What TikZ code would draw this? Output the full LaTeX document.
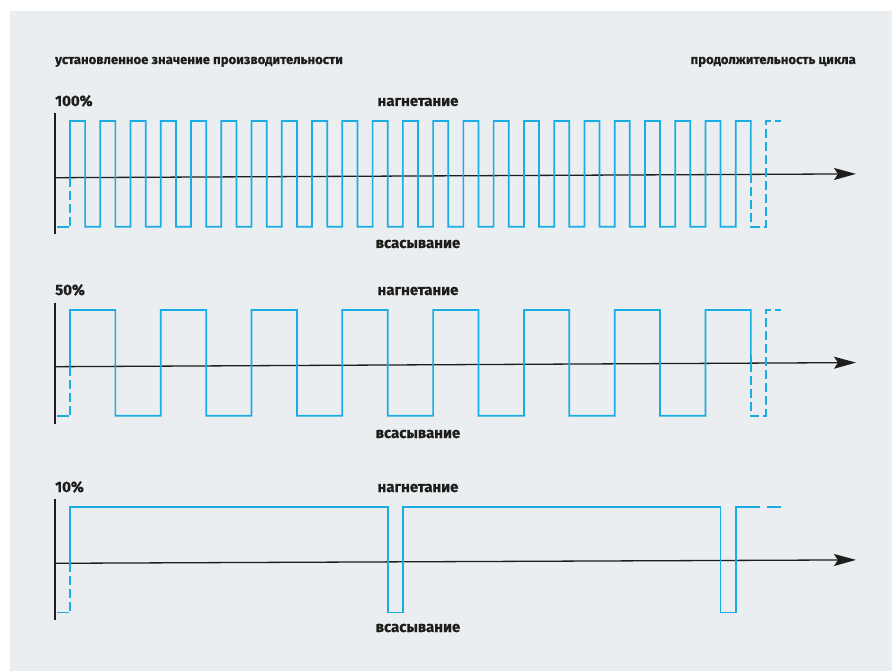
\documentclass[tikz,border=0pt]{standalone}
\usepackage{fontspec}
\setmainfont{Fira Sans}[BoldFeatures={FakeBold=0.7}]
\usetikzlibrary{arrows.meta}
\definecolor{bg}{HTML}{EAEEF1}
\definecolor{wave}{HTML}{1AADE4}
\definecolor{ink}{HTML}{1D1D1B}
\tikzset{
  wv/.style={draw=wave,line width=1.7pt,line join=miter},
  wvd/.style={draw=wave,line width=1.7pt,dash pattern=on 9pt off 4pt},
  axisv/.style={draw=ink,line width=1.3pt},
  axish/.style={draw=ink,line width=1.3pt,-{Stealth[length=22pt,width=12pt,inset=4pt]}},
  lbl/.style={text=ink,font=\fontsize{15}{18}\selectfont\bfseries,inner sep=0pt},
  ttl/.style={text=ink,font=\fontsize{13.1}{16}\selectfont\bfseries,inner sep=0pt}
}
\begin{document}
\begin{tikzpicture}[x=1pt,y=-1pt]
\useasboundingbox (0,0) rectangle (892,671);
\fill[bg] (10,11) rectangle (892,671);

% titles
\node[ttl,anchor=base west] (t1) at (55,64) {установленное значение производительности};
\node[ttl,anchor=base east] (t2) at (856,64) {продолжительность цикла};

% ---------- panel 1: 100% ----------
\node[lbl,anchor=base west] (p1) at (55,106) {100\%};
\node[lbl,anchor=base] (n1) at (418,106) {нагнетание};
\node[lbl,anchor=base] (s1) at (418,248) {всасывание};
\coordinate (v1a) at (55,113);
\coordinate (v1b) at (55,234.5);
\draw[axisv] (v1a) -- (v1b);
\coordinate (a1s) at (55,177.7);
\coordinate (a1e) at (856,173.9);
\draw[axish] (a1s) -- (a1e);
\draw[wvd] (70,177.6) -- (70,226.7);
\draw[wv] (57,226.7) -- (68.5,226.7);
\draw[wv] (70,177.6) -- (70,121)
  \foreach \k in {0,...,21} { -- ++(15.13,0) -- ++(0,105.7) -- ++(15.13,0) -- ++(0,-105.7) }
  -- ++(15.13,0) -- (750.8,174.4);
\draw[wvd] (750.8,174.4) -- (750.8,226.7) -- (765.9,226.7) -- (765.9,121) -- (781,121);

% ---------- panel 2: 50% ----------
\node[lbl,anchor=base west] (p2) at (55,295) {50\%};
\node[lbl,anchor=base] (n2) at (418,295) {нагнетание};
\node[lbl,anchor=base] (s2) at (418,438) {всасывание};
\coordinate (v2a) at (55,302.7);
\coordinate (v2b) at (55,424);
\draw[axisv] (v2a) -- (v2b);
\coordinate (a2s) at (55,366.7);
\coordinate (a2e) at (856,362.6);
\draw[axish] (a2s) -- (a2e);
\draw[wvd] (70,366.6) -- (70,415.7);
\draw[wv] (57,415.7) -- (68.5,415.7);
\draw[wv] (70,366.6) -- (70,310)
  \foreach \k in {0,...,6} { -- ++(45.39,0) -- ++(0,105.7) -- ++(45.39,0) -- ++(0,-105.7) }
  -- ++(45.39,0) -- (750.9,363.2);
\draw[wvd] (750.9,363.2) -- (750.9,415.7) -- (765.9,415.7) -- (765.9,310) -- (781,310);

% ---------- panel 3: 10% ----------
\node[lbl,anchor=base west] (p3) at (55,492) {10\%};
\node[lbl,anchor=base] (n3) at (418,492) {нагнетание};
\node[lbl,anchor=base] (s3) at (418,632) {всасывание};
\coordinate (v3a) at (55,499);
\coordinate (v3b) at (55,620);
\draw[axisv] (v3a) -- (v3b);
\coordinate (a3s) at (55,563.3);
\coordinate (a3e) at (856,559.9);
\draw[axish] (a3s) -- (a3e);
\draw[wvd] (70,563.2) -- (70,612.5);
\draw[wv] (57,612.5) -- (68.5,612.5);
\draw[wv] (70,563.2) -- (70,506.7) -- (387.7,506.7) -- (387.7,612.5) -- (402.9,612.5)
  -- (402.9,506.7) -- (720.6,506.7) -- (720.6,612.5) -- (735.7,612.5) -- (735.7,506.7) -- (760,506.7);
\draw[wv] (767,506.7) -- (781,506.7);
\end{tikzpicture}
\end{document}
